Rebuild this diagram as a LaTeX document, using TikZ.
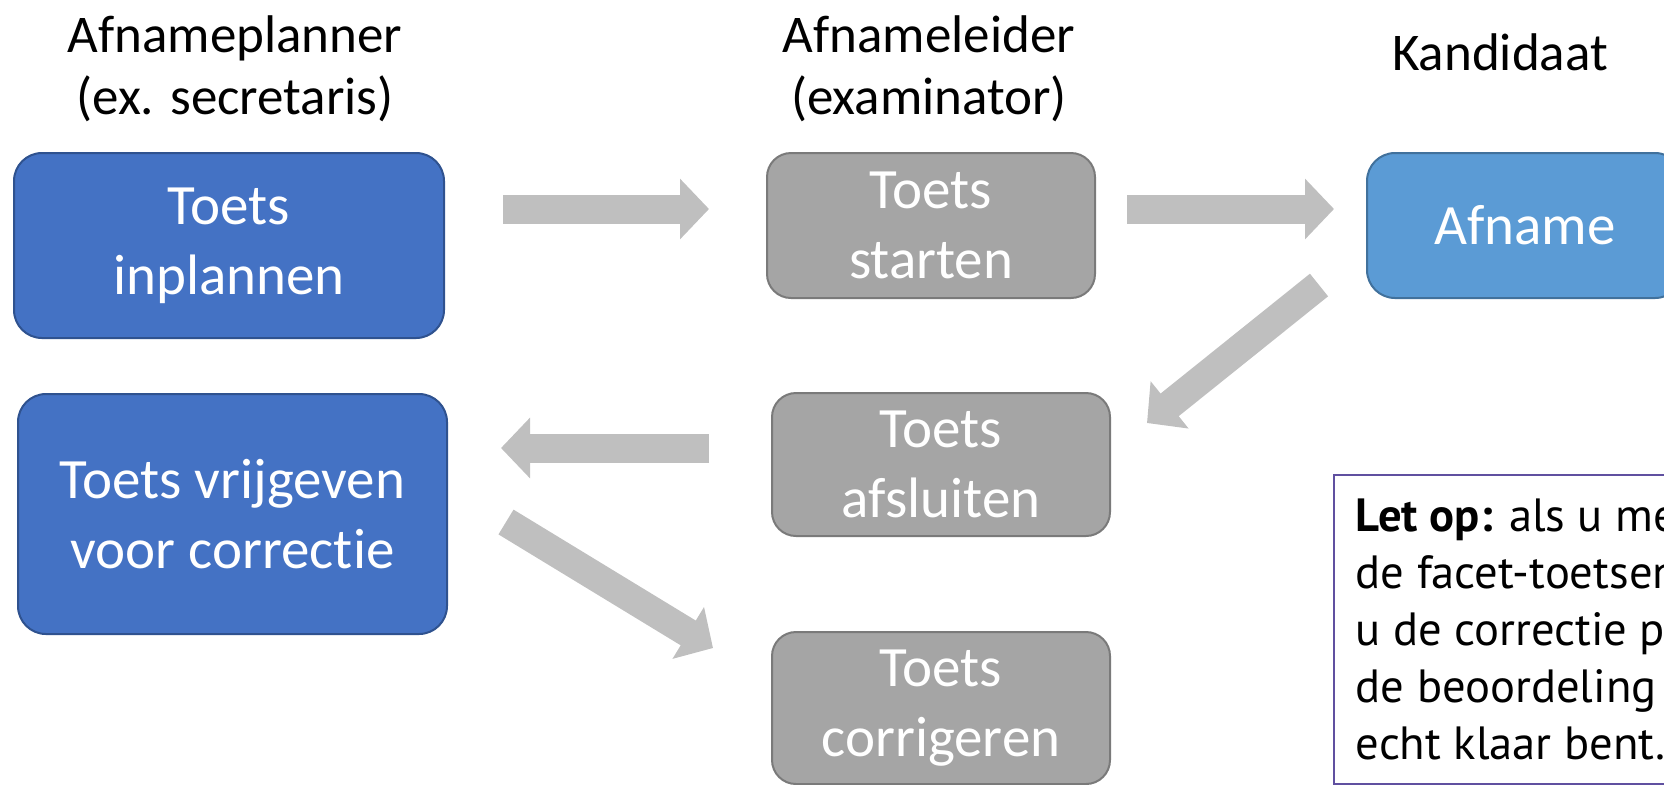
\documentclass[tikz,border=0pt]{standalone}
\usepackage{fontspec}
\setmainfont{Carlito}[Ligatures=NoCommon]
\newfontfamily\notefont{PT Sans}
\usetikzlibrary{arrows.meta,positioning}

\definecolor{planblue}{HTML}{4472C4}
\definecolor{planedge}{HTML}{2F528F}
\definecolor{afnameblue}{HTML}{5B9BD5}
\definecolor{afnameedge}{HTML}{41719C}
\definecolor{leidergray}{HTML}{A5A5A5}
\definecolor{leideredge}{HTML}{7A7A7A}
\definecolor{arrowgray}{HTML}{BFBFBF}
\definecolor{notepurple}{HTML}{6050A0}

\begin{document}
\begin{tikzpicture}[x=0.5pt,y=-0.5pt]
    \tikzstyle{title}=[align=center,inner sep=0pt,font=\fontsize{26.5}{31}\selectfont]
    \tikzstyle{task}=[rectangle,line width=1pt,text=white,align=center,inner sep=0pt,font=\fontsize{28.5}{35}\selectfont]
    \tikzstyle{planner}=[task,draw=planedge,fill=planblue,rounded corners=14pt]
    \tikzstyle{leider}=[task,draw=leideredge,fill=leidergray,rounded corners=12pt]
    \tikzstyle{kandidaat}=[task,draw=afnameedge,fill=afnameblue,rounded corners=14pt]
    \tikzstyle{flow}=[draw=arrowgray,line width=14.5pt,-{Triangle[length=14.5pt,width=29.5pt]}]
    \tikzstyle{note}=[rectangle,draw=notepurple,line width=0.8pt,anchor=north west,align=flush left,
      text width=178pt,inner xsep=11pt,minimum height=154.5pt,font=\notefont\fontsize{23.3}{28.5}\selectfont]

    \clip (0,0) rectangle (1664,784);

    % column headers
    \node [title] at (235,69) (planner) {Afnameplanner\\(ex. secretaris)};
    \node [title] at (929,69) (leider) {Afnameleider\\(examinator)};
    \node [title,anchor=base] at (1500,70) (kandidaat) {Kandidaat};

    \node [planner,minimum width=215pt,minimum height=92.5pt] at (229,245.5) (inplannen) {Toets\\inplannen};
    \node [planner,minimum width=214.5pt,minimum height=120pt] at (232.5,514) (vrijgeven) {Toets vrijgeven\\voor correctie};

    \node [leider,minimum width=164pt,minimum height=72.5pt] at (931,225.5) (starten) {Toets\\starten};
    \node [leider,minimum width=169pt,minimum height=71.5pt] at (941,464.5) (afsluiten) {Toets\\afsluiten};
    \node [leider,minimum width=169pt,minimum height=76pt] at (941,708) (corrigeren) {Toets\\corrigeren};

    \node [kandidaat,minimum width=158pt,minimum height=72.5pt] at (1525,225.5) (afname) {Afname};

    \node [note] at (1333,474) (letop) {\textbf{Let op:} als u me\\de facet-toetsen\\u de correctie p\\de beoordeling\\echt klaar bent.};

    % block arrows between the steps
    \coordinate (inplannen-uit) at (503,209);
    \coordinate (starten-in) at (709,209);
    \coordinate (starten-uit) at (1127,209);
    \coordinate (afname-in) at (1334,209);
    \coordinate (afname-uit) at (1319,285);
    \coordinate (afsluiten-in) at (1147,423);
    \coordinate (afsluiten-uit) at (709,448);
    \coordinate (vrijgeven-in) at (501,448);
    \coordinate (vrijgeven-uit) at (506,522);
    \coordinate (corrigeren-in) at (713,648);

    \draw [flow] (inplannen-uit) -- (starten-in);
    \draw [flow] (starten-uit) -- (afname-in);
    \draw [flow] (afname-uit) -- (afsluiten-in);
    \draw [flow] (afsluiten-uit) -- (vrijgeven-in);
    \draw [flow] (vrijgeven-uit) -- (corrigeren-in);

\end{tikzpicture}
\end{document}
